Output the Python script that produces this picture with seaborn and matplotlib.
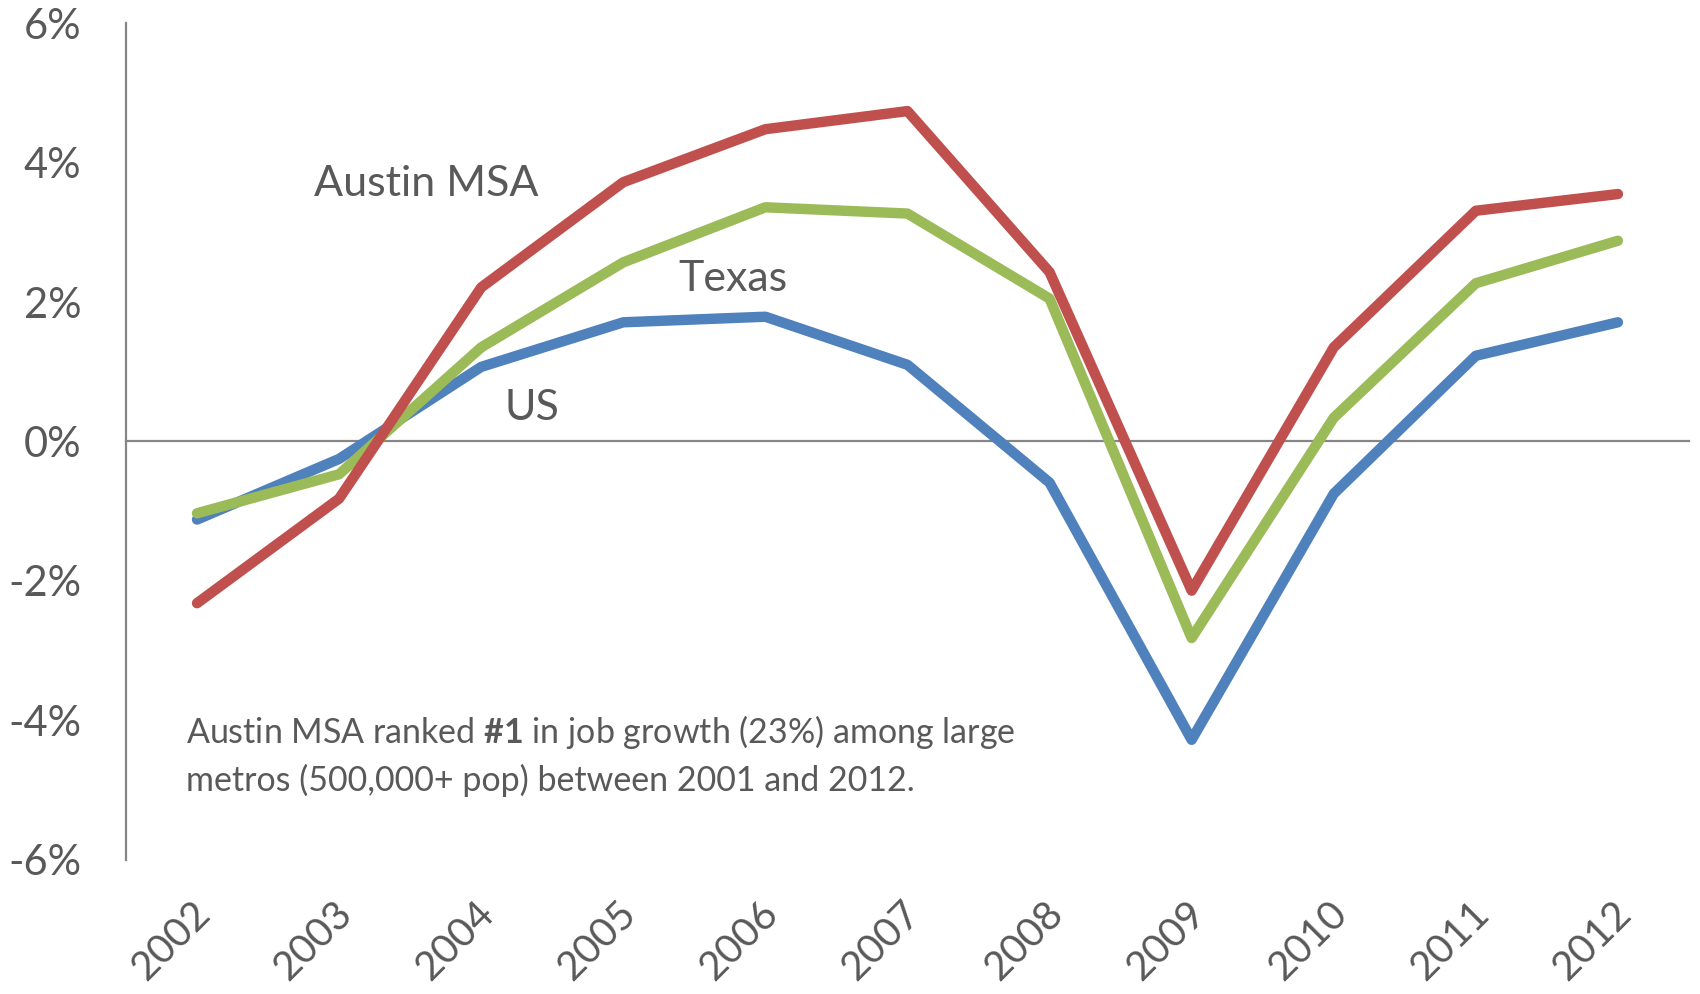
import pandas as pd
import seaborn as sns
import matplotlib.pyplot as plt
import matplotlib.transforms as mtransforms

# data: annual job growth (%)
years = ['2002', '2003', '2004', '2005', '2006', '2007', '2008', '2009', '2010', '2011', '2012']
austin = [-2.32, -0.82, 2.21, 3.72, 4.48, 4.74, 2.43, -2.14, 1.35, 3.31, 3.55]
texas = [-1.03, -0.47, 1.35, 2.57, 3.36, 3.27, 2.05, -2.82, 0.34, 2.27, 2.88]
us = [-1.12, -0.25, 1.07, 1.71, 1.79, 1.10, -0.59, -4.28, -0.75, 1.23, 1.71]
y_ticks = [-6, -4, -2, 0, 2, 4, 6]

sns.set_style('white')
plt.rcParams['font.family'] = ['Lato', 'DejaVu Sans']
plt.rcParams['mathtext.fontset'] = 'custom'
plt.rcParams['mathtext.bf'] = 'Lato:bold'
plt.rcParams['mathtext.rm'] = 'Lato'

text_col = '#595959'
axis_col = '#868686'

df = pd.DataFrame({'year': years * 3,
                   'growth': austin + texas + us,
                   'series': ['Austin MSA'] * 11 + ['Texas'] * 11 + ['US'] * 11})
df['pos'] = df['year'].map({y: i for i, y in enumerate(years)})

fig = plt.figure(figsize=(17, 9.94), dpi=100)
ax = fig.add_axes([0.0741, 0.1351, 0.9194, 0.8415])

sns.lineplot(data=df, x='pos', y='growth', hue='series',
             palette={'Austin MSA': '#C0504D', 'Texas': '#9BBB59', 'US': '#4F81BD'},
             hue_order=['US', 'Texas', 'Austin MSA'],
             linewidth=7.5, legend=False, ax=ax,
             solid_joinstyle='round', solid_capstyle='round')

ax.set_xlim(-0.5, len(years) - 0.5)
ax.set_ylim(-6, 6)

# spines: left axis plus horizontal axis crossing at zero
for s in ['top', 'right']:
    ax.spines[s].set_visible(False)
ax.spines['bottom'].set_position(('data', 0))
for s in ['left', 'bottom']:
    ax.spines[s].set_color(axis_col)
    ax.spines[s].set_linewidth(1.6)
    ax.spines[s].set_zorder(0)

ax.set_yticks(y_ticks)
ax.set_yticklabels([f'{v}%' for v in y_ticks], fontsize=30, color=text_col)
ax.tick_params(axis='y', direction='out', length=11, width=1.6, color=axis_col, pad=21)

# category boundary ticks on the zero axis, year labels along the bottom
ax.set_xticks([i - 0.5 for i in range(len(years) + 1)])
ax.set_xticklabels([])
ax.tick_params(axis='x', direction='out', length=11, width=1.6, color=axis_col)
ax.set_xlabel('')
ax.set_ylabel('')

trans = mtransforms.blended_transform_factory(ax.transData, ax.transAxes)
for i, y in enumerate(years):
    ax.text(i + 0.05, -0.058, y, transform=trans, rotation=45, ha='right', va='center',
            rotation_mode='anchor', fontsize=29, color=text_col)

# series labels
ax.text(1.61, 3.70, 'Austin MSA', fontsize=31, color=text_col, ha='center', va='center')
ax.text(3.77, 2.33, 'Texas', fontsize=31, color=text_col, ha='center', va='center')
ax.text(2.36, 0.48, 'US', fontsize=31, color=text_col, ha='center', va='center')

ax.text(-0.08, -4.5,
        'Austin MSA ranked $\\mathbf{\\#1}$ in job growth (23%) among large\n'
        'metros (500,000+ pop) between 2001 and 2012.',
        fontsize=24.5, color=text_col, ha='left', va='center', linespacing=1.5)

fig.savefig('out.png', dpi=100)
